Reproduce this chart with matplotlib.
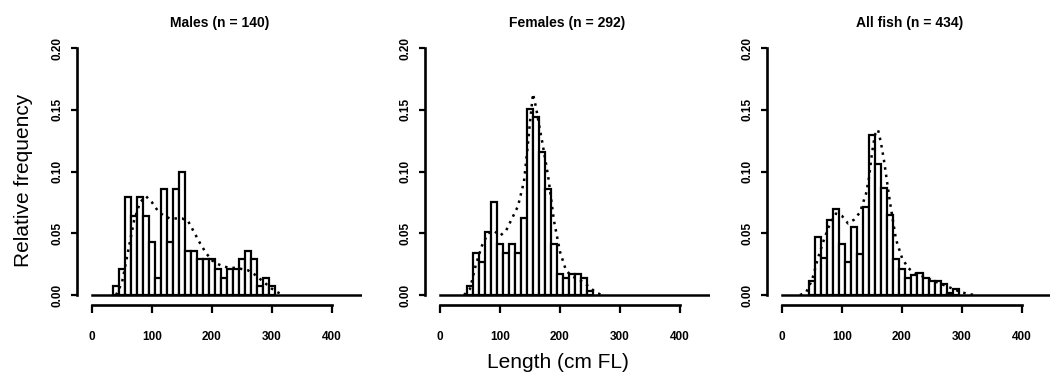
import numpy as np
import matplotlib
matplotlib.use("Agg")
import matplotlib.pyplot as plt

plt.rcParams['font.family'] = ['Liberation Sans', 'DejaVu Sans']

# histogram bins (10 cm wide, centred on the given lengths)
males_len = np.arange(40, 310, 10)
males_freq = [0.007, 0.021, 0.079, 0.064, 0.079, 0.064, 0.043, 0.014, 0.086, 0.043,
              0.086, 0.100, 0.036, 0.036, 0.029, 0.029, 0.029, 0.021, 0.014, 0.021,
              0.021, 0.029, 0.036, 0.029, 0.007, 0.014, 0.007]

females_len = np.arange(50, 260, 10)
females_freq = [0.007, 0.034, 0.027, 0.051, 0.075, 0.041, 0.034, 0.041, 0.034, 0.062,
                0.151, 0.144, 0.116, 0.086, 0.041, 0.017, 0.014, 0.017, 0.017, 0.014,
                0.003]

all_len = np.arange(50, 300, 10)
all_freq = [0.011, 0.047, 0.030, 0.061, 0.070, 0.041, 0.027, 0.055, 0.033, 0.071,
            0.130, 0.106, 0.087, 0.065, 0.029, 0.021, 0.014, 0.016, 0.018, 0.014,
            0.011, 0.011, 0.009, 0.002, 0.005]

# dotted curves
males_cx = [40, 50, 60, 70, 80, 90, 100, 110, 120, 130, 140, 150, 160, 170, 180, 190,
            200, 210, 220, 230, 240, 250, 260, 270, 280, 290, 300, 310, 320]
males_cy = [0.0, 0.01, 0.035, 0.06, 0.075, 0.08, 0.075, 0.068, 0.064, 0.062, 0.062,
            0.062, 0.06, 0.051, 0.042, 0.034, 0.028, 0.025, 0.023, 0.022, 0.022, 0.021,
            0.02, 0.017, 0.013, 0.009, 0.005, 0.002, 0.0]

females_cx = [40, 50, 60, 70, 80, 90, 100, 110, 120, 130, 140, 145, 150, 155, 160, 165,
              170, 180, 190, 200, 210, 220, 230, 240, 250, 260, 270]
females_cy = [0.0, 0.005, 0.025, 0.04, 0.05, 0.052, 0.048, 0.052, 0.062, 0.072, 0.092,
              0.115, 0.14, 0.163, 0.152, 0.138, 0.125, 0.097, 0.06, 0.035, 0.02, 0.015,
              0.013, 0.01, 0.006, 0.002, 0.0]

all_cx = [30, 40, 50, 60, 70, 80, 90, 100, 110, 120, 130, 140, 145, 150, 155, 160, 165,
          170, 180, 190, 200, 210, 220, 230, 240, 250, 260, 270, 280, 290, 300, 320]
all_cy = [0.0, 0.002, 0.012, 0.03, 0.045, 0.058, 0.066, 0.064, 0.058, 0.061, 0.067,
          0.082, 0.095, 0.115, 0.13, 0.134, 0.123, 0.109, 0.075, 0.045, 0.03, 0.022,
          0.018, 0.016, 0.014, 0.012, 0.01, 0.008, 0.006, 0.004, 0.002, 0.0]

titles = ["Males (n = 140)", "Females (n = 292)", "All fish (n = 434)"]
panels = [(males_len, males_freq, males_cx, males_cy),
          (females_len, females_freq, females_cx, females_cy),
          (all_len, all_freq, all_cx, all_cy)]

W, H = 1050, 390
fig = plt.figure(figsize=(10.5, 3.9), dpi=100)

lefts = [77, 425, 767]
for i, (lx, fr, cx, cy) in enumerate(panels):
    ax = fig.add_axes([lefts[i] / W, (H - 305) / H, 285 / W, 260 / H])
    ax.bar(lx, fr, width=10, color='white', edgecolor='black', linewidth=1.6, zorder=2)
    ax.plot(cx, cy, color='black', linestyle=(0, (1, 2)), linewidth=1.8, zorder=3)
    ax.plot([0, 450], [0, 0], color='black', linewidth=1.8, zorder=1)
    ax.set_xlim(-25, 450)
    ax.set_ylim(-0.0081, 0.2025)
    ax.spines['top'].set_visible(False)
    ax.spines['right'].set_visible(False)
    ax.spines['left'].set_bounds(0, 0.2)
    ax.spines['bottom'].set_bounds(0, 400)
    for s in ('left', 'bottom'):
        ax.spines[s].set_linewidth(1.9)
    ax.set_xticks([0, 100, 200, 300, 400])
    ax.set_yticks([0, 0.05, 0.10, 0.15, 0.20])
    ax.set_yticklabels(["0.00", "0.05", "0.10", "0.15", "0.20"], rotation=90, va='center')
    ax.tick_params(axis='x', length=6, width=1.6, pad=13, labelsize=8.5)
    ax.tick_params(axis='y', length=4, width=1.6, pad=6, labelsize=8.5)
    for lab in ax.get_xticklabels() + ax.get_yticklabels():
        lab.set_fontweight('bold')
    ax.set_title(titles[i], fontsize=10, fontweight='bold', pad=13)
    ax.patch.set_visible(False)

fig.text(24 / W, 1 - 180 / H, "Relative frequency", rotation=90, ha='center', va='center',
         fontsize=15)
fig.text(558 / W, 1 - 362 / H, "Length (cm FL)", ha='center', va='center', fontsize=15)

fig.savefig("out.png", dpi=100, facecolor='white')
